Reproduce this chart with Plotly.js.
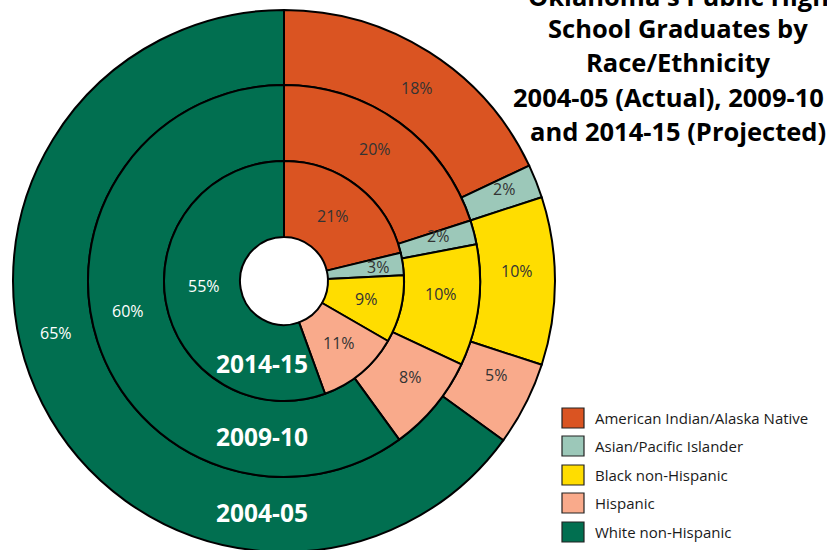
<!DOCTYPE html>
<html><head><meta charset="utf-8">
<script src="https://cdn.plot.ly/plotly-3.0.1.min.js"></script>
<style>html,body{margin:0;padding:0;overflow:hidden;background:#fff}#chart{width:827px;height:560px}</style>
</head><body><div id="chart"></div>
<script>
const groups = ['American Indian/Alaska Native','Asian/Pacific Islander','Black non-Hispanic','Hispanic','White non-Hispanic'];
const years = ['2004-05','2009-10','2014-15'];
const pct2004 = [18,2,10,5,65];
const pct2009 = [20,2,10,8,60];
const pct2014 = [21,3,9,11,55];
const colors = ['#DA5422','#9CC8B9','#FFDD00','#F9AA8B','#016F50'];
const textColors = ['#333333','#333333','#333333','#333333','#ffffff'];
const titleLines = ["Oklahoma's Public High","School Graduates by","Race/Ethnicity","2004-05 (Actual), 2009-10","and 2014-15 (Projected)"];

// ---- layout geometry (pixels) ----
const W = 827, H = 560, cx = 284, cy = 281;
const ringOuter = [271, 196, 120];
const ringInner = [196, 120, 44];
const seriesByRing = [pct2004, pct2009, pct2014];
// where each slice's percentage label sits (pixel centres), per ring, per group
const labelPx = [
  [[417, 88], [504, 189], [517, 271], [496, 375], [56, 333]],
  [[375, 149], [438, 236], [441, 294], [410, 377], [128, 311]],
  [[333, 216], [378, 267], [366, 299], [339, 343], [204, 286]]
];
const FONT = '"Open Sans", "Noto Sans", sans-serif';

function dom(r) {
  return {x: [(cx - r) / W, (cx + r) / W], y: [1 - (cy + r) / H, 1 - (cy - r) / H]};
}
const px = x => x / W;
const py = y => 1 - y / H;

const traces = seriesByRing.map((vals, i) => ({
  type: 'pie',
  name: years[i],
  labels: groups,
  values: vals,
  sort: false,
  direction: 'clockwise',
  rotation: 0,
  hole: ringInner[i] / ringOuter[i],
  domain: dom(ringOuter[i]),
  marker: {colors: colors, line: {color: '#000', width: 2}},
  textinfo: 'none',
  showlegend: false,
  hoverinfo: 'label+value'
}));

const annotations = [];
// percentage labels
seriesByRing.forEach((vals, r) => {
  vals.forEach((v, k) => {
    annotations.push({xref: 'paper', yref: 'paper', x: px(labelPx[r][k][0]), y: py(labelPx[r][k][1]),
      text: v + '%', showarrow: false, xanchor: 'center', yanchor: 'middle',
      font: {family: FONT, size: 16, color: textColors[k]}});
  });
});
// year labels
const yearY = [512, 436, 363];
years.forEach((y, i) => {
  annotations.push({xref: 'paper', yref: 'paper', x: px(262), y: py(yearY[i]),
    text: '<b>' + y + '</b>', showarrow: false, xanchor: 'center', yanchor: 'middle',
    font: {family: FONT, size: 24.5, color: '#fff'}});
});
// title
const titleY = [-4, 28, 62, 97, 131];
const titleX = [678, 678, 678, 668, 678];
titleLines.forEach((t, i) => {
  annotations.push({xref: 'paper', yref: 'paper', x: px(titleX[i]), y: py(titleY[i]),
    text: '<b>' + t + '</b>', showarrow: false, xanchor: 'center', yanchor: 'middle',
    font: {family: FONT, size: 25.5, color: '#000'}});
});
// legend
const shapes = [];
const legY = [418, 446, 475, 503, 532];
groups.forEach((g, i) => {
  shapes.push({type: 'rect', xref: 'paper', yref: 'paper',
    x0: px(562), x1: px(584), y0: py(legY[i] + 10), y1: py(legY[i] - 10),
    fillcolor: colors[i], line: {color: '#222', width: 1.2}});
  annotations.push({xref: 'paper', yref: 'paper', x: px(593), y: py(legY[i]),
    text: g, showarrow: false, xanchor: 'left', yanchor: 'middle',
    font: {family: FONT, size: 15, color: '#1a1a1a'}});
});

const layout = {
  width: W, height: H,
  margin: {l: 0, r: 0, t: 0, b: 0},
  paper_bgcolor: '#fff',
  showlegend: false,
  annotations: annotations,
  shapes: shapes
};
Plotly.newPlot('chart', traces, layout, {displayModeBar: false, staticPlot: true});
</script></body></html>
